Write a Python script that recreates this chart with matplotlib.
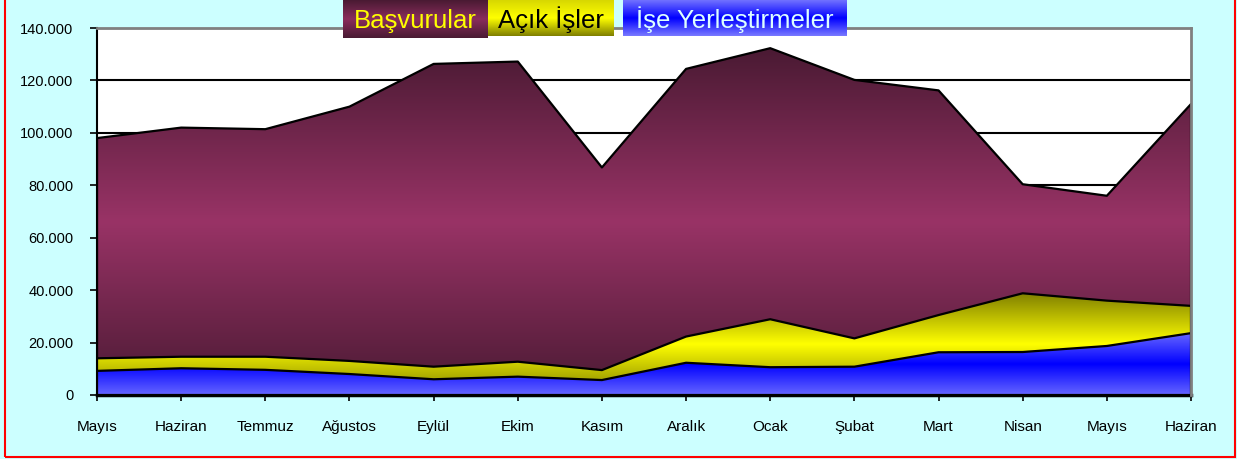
import numpy as np
import matplotlib
matplotlib.use("Agg")
import matplotlib.pyplot as plt
from matplotlib.colors import LinearSegmentedColormap
from matplotlib.patches import Rectangle
from matplotlib.ticker import FuncFormatter

plt.rcParams['font.family'] = ['Liberation Sans', 'DejaVu Sans']

# aylar
aylar = ['Mayıs', 'Haziran', 'Temmuz', 'Ağustos', 'Eylül', 'Ekim', 'Kasım',
         'Aralık', 'Ocak', 'Şubat', 'Mart', 'Nisan', 'Mayıs', 'Haziran']

# seriler
basvurular = [98000, 102000, 101400, 110000, 126300, 127200, 86800,
              124400, 132300, 120200, 116200, 80400, 76000, 111000]
acik_isler = [14000, 14600, 14600, 13000, 10800, 12700, 9500,
              22300, 28900, 21600, 30500, 38800, 36000, 34000]
yerlestirme = [9200, 10200, 9600, 8000, 6000, 7000, 5700,
               12300, 10600, 10800, 16300, 16400, 18700, 23600]

W, H = 1237, 459
fig = plt.figure(figsize=(W / 100, H / 100), dpi=100)
fig.patch.set_facecolor('#ccffff')

ax = fig.add_axes([97 / W, 1 - 395 / H, (1191 - 97) / W, (395 - 28) / H])
ax.set_facecolor('white')

x = np.arange(len(aylar))


def gradient_area(ax, x, y, edge_col, mid_col, z):
    y = np.asarray(y, dtype=float)
    poly = ax.fill_between(x, 0, y, facecolor='none', edgecolor='black',
                           linewidth=1.6, zorder=z + 0.1)
    cmap = LinearSegmentedColormap.from_list('g', [edge_col, mid_col, edge_col])
    grad = np.linspace(0, 1, 256).reshape(-1, 1)
    im = ax.imshow(grad, extent=[x[0], x[-1], 0, y.max()], aspect='auto',
                   cmap=cmap, origin='lower', zorder=z, interpolation='bilinear')
    im.set_clip_path(poly.get_paths()[0], transform=ax.transData)


gradient_area(ax, x, basvurular, '#4a1a33', '#993366', 2)
gradient_area(ax, x, acik_isler, '#808000', '#ffff00', 3)
gradient_area(ax, x, yerlestirme, '#6666ff', '#0000ff', 4)

ax.set_xlim(0, len(aylar) - 1)
ax.set_ylim(0, 140000)
ax.set_yticks(np.arange(0, 140001, 20000))
ax.yaxis.set_major_formatter(FuncFormatter(lambda v, p: f"{v:,.0f}".replace(',', '.')))
ax.set_xticks(x)
ax.set_xticklabels(aylar)

ax.set_axisbelow(True)
ax.yaxis.grid(True, color='black', linewidth=1.5)
ax.tick_params(axis='y', length=5, width=1.2, pad=12, labelsize=10.5)
ax.tick_params(axis='x', length=4, width=1.2, pad=14, labelsize=11)

ax.spines['left'].set_linewidth(1.5)
ax.spines['bottom'].set_linewidth(2.5)
for s in ['top', 'right']:
    ax.spines[s].set_color('#808080')
    ax.spines[s].set_linewidth(2)
    ax.spines[s].set_zorder(6)

# lejant kutulari
legend_items = [
    ('Başvurular', 343, 488, 38, ['#4a1a33', '#8a2d5c', '#4a1a33'], '#ffff00'),
    ('Açık İşler', 488, 614, 36, ['#d8d800', '#ffff00', '#808000'], 'black'),
    ('İşe Yerleştirmeler', 623, 847, 36, ['#7070ff', '#0000ff', '#7878ff'], '#ddffff'),
]
for label, x0, x1, h, cols, tcol in legend_items:
    lax = fig.add_axes([x0 / W, 1 - h / H, (x1 - x0) / W, h / H])
    cmap = LinearSegmentedColormap.from_list('l', cols)
    lax.imshow(np.linspace(0, 1, 64).reshape(-1, 1), extent=[0, 1, 0, 1],
               aspect='auto', cmap=cmap, origin='upper')
    lax.text(0.5, 0.45, label, color=tcol, fontsize=18.5, ha='center', va='center',
             transform=lax.transAxes)
    lax.set_axis_off()

# kirmizi cerceve
fig.patches.append(Rectangle((5 / W, 1 - 457 / H), (1235 - 5) / W, 457 / H + 0.05,
                             transform=fig.transFigure, fill=False,
                             edgecolor='red', linewidth=1.5, clip_on=False))

fig.savefig('out.png', dpi=100, facecolor=fig.get_facecolor())
